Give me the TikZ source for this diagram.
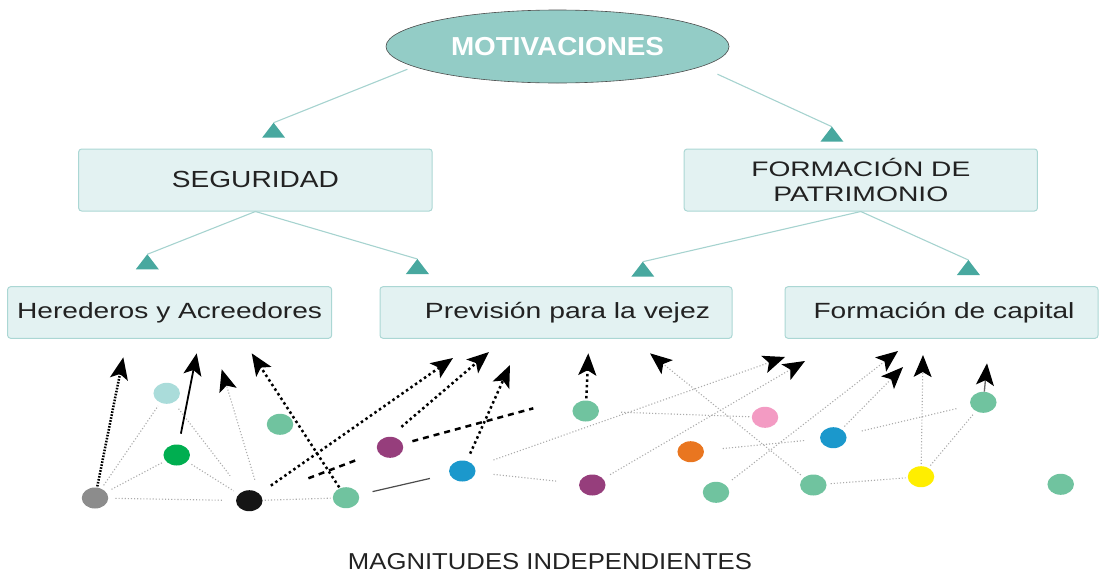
\documentclass[tikz,border=0pt]{standalone}
\usepackage{fontspec}
\setmainfont{Liberation Sans}
\usepackage{graphicx}
\usetikzlibrary{arrows.meta,calc,shapes.geometric}
\definecolor{ellfill}{HTML}{93CCC6}
\definecolor{boxfill}{HTML}{E3F2F2}
\definecolor{boxline}{HTML}{ABD7D4}
\definecolor{tealline}{HTML}{A6D3CF}
\definecolor{tealtri}{HTML}{48A89F}
\definecolor{txt}{HTML}{222222}
\definecolor{cgray}{HTML}{8C8C8C}
\definecolor{cblack}{HTML}{151515}
\definecolor{ccyan}{HTML}{AADCDA}
\definecolor{cgreen}{HTML}{00AE50}
\definecolor{cmint}{HTML}{70C39F}
\definecolor{cpurple}{HTML}{963E7C}
\definecolor{cblue}{HTML}{1B98CC}
\definecolor{cpink}{HTML}{F39BC3}
\definecolor{corange}{HTML}{E97620}
\definecolor{cyellow}{HTML}{FFEE00}
\definecolor{gline}{HTML}{ABABAB}
\newcommand\fitw[2]{\resizebox{#1}{\height}{#2}}
\begin{document}
\begin{tikzpicture}[x=1pt,y=-1pt,
  box/.style={draw=boxline, fill=boxfill, rounded corners=3pt, line width=1pt,
    inner sep=0pt, text=txt, align=center},
  dot/.style={ellipse, minimum width=26.5pt, minimum height=21pt, inner sep=0pt, fill=#1},
  tl/.style={draw=tealline, line width=1.1pt},
  tip/.style={-{Stealth[length=22pt,width=18pt,inset=5pt,color=black]}},
  tdot/.style={tip, draw=black, line width=2.5pt, dash pattern=on 2.5pt off 3pt},
  ddot/.style={tip, draw=black, line width=2.5pt, dash pattern=on 1.6pt off 1.4pt},
  kdash/.style={draw=black, line width=2.5pt, dash pattern=on 6pt off 5pt},
  gdot/.style={draw=gline, line width=1.1pt, dash pattern=on 1.1pt off 2pt},
  gdota/.style={gdot, tip},
  tri/.pic={\fill[tealtri] (0,0) -- (-11.5,15) -- (11.5,15) -- cycle;}
]
\useasboundingbox (0,0) rectangle (1099,576);

% top ellipse
\node[ellipse, draw=black!70, line width=0.6pt, fill=ellfill, minimum width=343pt,
  minimum height=73pt, inner sep=0pt, text=white,
  font=\fontsize{26}{30}\selectfont\bfseries] (mot) at (557.5,46.5)
  {\fitw{213pt}{MOTIVACIONES}};

% boxes
\node[box, minimum width=353.5pt, minimum height=62pt,
  font=\fontsize{23.3}{28}\selectfont] (seg) at (255.4,180)
  {\raisebox{2pt}{\fitw{167pt}{SEGURIDAD}}};
\node[box, minimum width=353.3pt, minimum height=62pt,
  font=\fontsize{21}{25.7}\selectfont] (form) at (860.8,180)
  {\fitw{219pt}{FORMACIÓN DE}\\\fitw{175pt}{PATRIMONIO}};
\node[box, minimum width=324pt, minimum height=51.6pt,
  font=\fontsize{22}{26}\selectfont] (her) at (169.6,312.5)
  {\fitw{305pt}{Herederos y Acreedores}};
\node[box, minimum width=352pt, minimum height=51.6pt,
  font=\fontsize{22}{26}\selectfont] (prev) at (556,312.5)
  {\hspace*{23pt}\fitw{285pt}{Previsión para la vejez}};
\node[box, minimum width=313pt, minimum height=51.6pt,
  font=\fontsize{22}{26}\selectfont] (cap) at (941.5,312.5)
  {\hspace*{5pt}\fitw{261pt}{Formación de capital}};

% teal connectors
\coordinate (t1) at (273.6,122.7);
\coordinate (t2) at (831.9,126.7);
\coordinate (t3) at (147.3,254.3);
\coordinate (t4) at (417.4,259);
\coordinate (t5) at (642.8,261.7);
\coordinate (t6) at (968.4,260);
\draw[tl, shorten <=7pt] (mot.188) -- (t1);
\draw[tl, shorten <=18pt] (mot.-8) -- (t2);
\draw[tl] (seg.south) -- (t3);
\draw[tl] (seg.south) -- (t4);
\draw[tl] (form.south) -- (t5);
\draw[tl] (form.south) -- (t6);
\foreach \t in {t1,t2,t3,t4,t5,t6} \pic at (\t) {tri};

% bottom title
\node[text=txt, inner sep=0pt, font=\fontsize{23}{27}\selectfont] (mag) at (550,561.7)
  {\fitw{404pt}{MAGNITUDES INDEPENDIENTES}};

% dots
\node[dot=cgray]   (d1)  at (95,498) {};
\node[dot=ccyan]   (d2)  at (166.7,393.3) {};
\node[dot=cgreen]  (d3)  at (176.7,455) {};
\node[dot=cblack]  (d4)  at (249.3,500.7) {};
\node[dot=cmint]   (d5)  at (280,424.3) {};
\node[dot=cmint]   (d6)  at (346,497.7) {};
\node[dot=cpurple] (d7)  at (390,447.3) {};
\node[dot=cblue]   (d8)  at (462.3,471) {};
\node[dot=cmint]   (d9)  at (585.7,411) {};
\node[dot=cpurple] (d10) at (592.3,485) {};
\node[dot=cpink]   (d11) at (765,417.3) {};
\node[dot=corange] (d12) at (690.7,451.7) {};
\node[dot=cblue]   (d13) at (833.3,437.7) {};
\node[dot=cmint]   (d14) at (716,492.3) {};
\node[dot=cmint]   (d15) at (813.3,485) {};
\node[dot=cmint]   (d16) at (983.3,402.3) {};
\node[dot=cyellow] (d17) at (921,476.7) {};
\node[dot=cmint]   (d18) at (1060.7,484.3) {};

% arrow tip points and free ends
\coordinate (a1) at (123.3,357.3);
\coordinate (a2) at (196.7,353.3);
\coordinate (a3) at (221.7,369.3);
\coordinate (a4) at (251.7,353.3);
\coordinate (a5) at (453,358);
\coordinate (a6) at (489,352);
\coordinate (a7) at (510,365);
\coordinate (a8) at (588.3,353.3);
\coordinate (a9) at (650,353.3);
\coordinate (a10) at (785,357);
\coordinate (a11) at (805,361);
\coordinate (a12) at (898,351);
\coordinate (a13) at (903,367);
\coordinate (a14) at (923,355);
\coordinate (a15) at (987,363.3);
\coordinate (k2) at (533.3,408.3);

% grey dotted plain links
\draw[gdot, shorten <=4pt, shorten >=4pt] (d1) -- (d2);
\draw[gdot, shorten <=6pt, shorten >=4pt] (d1) -- (d3);
\draw[gdot, shorten <=7pt, shorten >=13pt] (d1) -- (d4);
\draw[gdot, shorten <=8pt, shorten >=20pt] (d2) -- (d4);
\draw[gdot, shorten <=5pt, shorten >=6pt] (d3) -- (d4);
\draw[gdot, shorten <=2pt, shorten >=2pt] (d4) -- (d6);
\draw[gdot, shorten <=18pt, shorten >=23pt] (d8) -- (d10);
\draw[gdot, shorten <=22pt, shorten >=2pt] (d9) -- (d11);
\draw[gdot, shorten <=16pt, shorten >=18pt] (d13) -- (d12);
\draw[gdot, shorten <=16pt, shorten >=14pt] (d13) -- (d16);
\draw[gdot, shorten <=4pt, shorten >=2pt] (d15) -- (d17);
\draw[gdot, shorten <=3pt, shorten >=3pt] (d17) -- (d16);

% grey dotted arrows
\draw[gdota, shorten <=14pt] (d4.north east) -- (a3);
\draw[gdota, shorten <=4pt] (d15) -- (a9);
\draw[gdota, shorten <=20pt] (d8) -- (a10);
\draw[gdota, shorten <=8pt] (d10) -- (a11);
\draw[gdota, shorten <=8pt] (d14) -- (a12);
\draw[gdota, shorten <=4pt] (d13) -- (a13);
\draw[gdota, shorten <=2pt] (d17) -- (a14);

% solid links
\draw[draw=black!70, line width=1.2pt, shorten <=14pt, shorten >=20pt] (d6) -- (d8);
\draw[tip, draw=black, line width=1.8pt, shorten <=11pt] (d3) -- (a2);
\draw[tip, draw=black!60, line width=1.3pt] (d16) -- (a15);

% black dotted arrows
\draw[ddot, shorten <=1pt] (d1) -- (a1);
\draw[tdot, shorten <=1pt] (d6) -- (a4);
\draw[tdot, shorten <=14pt] (d4) -- (a5);
\draw[tdot, shorten <=15pt] (d7.north) -- (a6);
\draw[tdot, shorten <=8pt] (d8) -- (a7);
\draw[tdot, shorten <=2pt] (d9) -- (a8);

% black dashed links
\draw[kdash] ($(d4)!0.42!(d7)$) -- ($(d4)!0.775!(d7)$);
\draw[kdash, shorten <=10pt] (d7) -- (k2);
\end{tikzpicture}
\end{document}
